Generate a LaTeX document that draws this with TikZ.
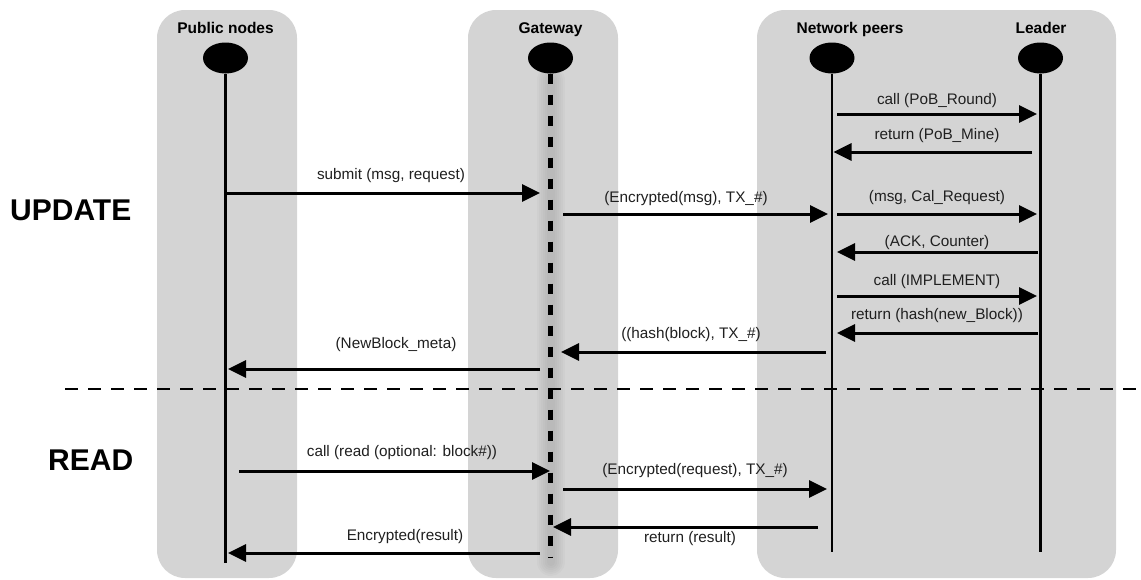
\documentclass[tikz,border=0pt]{standalone}
\usepackage{fontspec}
\setmainfont{Liberation Sans}
\usetikzlibrary{arrows.meta,shapes.geometric,calc}
\definecolor{panel}{RGB}{212,212,212}
\begin{document}
\begin{tikzpicture}[x=1pt,y=-1pt,
  panelbox/.style={fill=panel, rounded corners=28pt},
  head/.style={ellipse, fill=black, minimum width=45pt, minimum height=31pt, inner sep=0},
  title/.style={font=\fontsize{15.5}{18}\selectfont\bfseries, anchor=base, inner sep=0},
  life/.style={line width=2.6pt},
  gwlife/.style={line width=5pt, dash pattern=on 10pt off 11pt},
  glow/.style={black, opacity=0.018, line cap=round},
  msg/.style={line width=3pt, -{Triangle[length=18pt,width=17pt]}},
  lbl/.style={font=\fontsize{15.3}{18}\selectfont, inner sep=0, text height=10.8pt, text depth=3.2pt, text=black!88},
  phase/.style={font=\fontsize{30}{36}\selectfont\bfseries, anchor=base west, inner sep=0},
  sepline/.style={line width=2pt, dash pattern=on 13pt off 10pt}
]
\path[use as bounding box] (0,0) rectangle (1141,579);

% panels
\path[panelbox] (157,10) rectangle (297,578);
\path[panelbox] (468,10) rectangle (618,578);
\path[panelbox] (757,10) rectangle (1116,578);

% gateway soft shadow
\coordinate (glowtop) at (550.5,80);
\coordinate (glowbot) at (550.5,562);
\foreach \w in {28,24,20,16,12,8} {
  \draw[glow, line width=\w pt] (glowtop) -- (glowbot);
}

% heads and titles
\node[head] (pub) at (225.5,58) {};
\node[head] (gw) at (550.5,58) {};
\node[head] (net) at (832,58) {};
\node[head] (lead) at (1040.5,58) {};
\node[title] (tpub) at (225.5,33) {Public nodes};
\node[title] (tgw) at (550.5,33) {Gateway};
\node[title] (tnet) at (850,33) {Network peers};
\node[title] (tlead) at (1041,33) {Leader};

% lifelines
\coordinate (pubend) at (225.5,563);
\coordinate (gwend) at (550.5,557);
\coordinate (netend) at (832,552);
\coordinate (leadend) at (1040.5,552);
\draw[life] (pub.south) -- (pubend);
\draw[gwlife] (gw.south) -- (gwend);
\draw[life] (net.south) -- (netend);
\draw[life] (lead.south) -- (leadend);

% phases
\node[phase] (upd) at (10,220) {UPDATE};
\node[phase] (rd) at (48,470) {READ};
\coordinate (sepL) at (65,389);
\coordinate (sepR) at (1141,389);
\draw[sepline] (sepL) -- (sepR);

% messages
\draw[msg] ($(net |- 0,114)+(5,0)$) -- ($(lead |- 0,114)+(-3.5,0)$)
  node[lbl] at (937,101) {call (PoB\_Round)};
\draw[msg] ($(lead |- 0,152)+(-8.5,0)$) -- ($(net |- 0,152)+(1.5,0)$)
  node[lbl] at (937,136) {return (PoB\_Mine)};
\draw[msg] ($(pub |- 0,193)+(0,0)$) -- ($(gw |- 0,193)+(-10.5,0)$)
  node[lbl] at (391,176) {submit (msg, request)};
\draw[msg] ($(gw |- 0,214)+(12.5,0)$) -- ($(net |- 0,214)+(-4,0)$)
  node[lbl] at (686,199) {(Encrypted(msg), TX\_\#)};
\draw[msg] ($(net |- 0,214)+(5,0)$) -- ($(lead |- 0,214)+(-3.5,0)$)
  node[lbl] at (937,198) {(msg, Cal\_Request)};
\draw[msg] ($(lead |- 0,252)+(-2.5,0)$) -- ($(net |- 0,252)+(5,0)$)
  node[lbl] at (937,243) {(ACK, Counter)};
\draw[msg] ($(net |- 0,296)+(5,0)$) -- ($(lead |- 0,296)+(-3.5,0)$)
  node[lbl] at (937,282) {call (IMPLEMENT)};
\draw[msg] ($(lead |- 0,333)+(-2.5,0)$) -- ($(net |- 0,333)+(5,0)$)
  node[lbl] at (937,316) {return (hash(new\_Block))};
\draw[msg] ($(net |- 0,352)+(-6,0)$) -- ($(gw |- 0,352)+(10.5,0)$)
  node[lbl] at (691,335) {((hash(block), TX\_\#)};
\draw[msg] ($(gw |- 0,369)+(-10.5,0)$) -- ($(pub |- 0,369)+(2.5,0)$)
  node[lbl] at (396,345) {(NewBlock\_meta)};
\draw[msg] ($(pub |- 0,471)+(13.5,0)$) -- ($(gw |- 0,471)+(-0.5,0)$)
  node[lbl] at (402,453) {call (read (optional: block\#))};
\draw[msg] ($(gw |- 0,489)+(12.5,0)$) -- ($(net |- 0,489)+(-5,0)$)
  node[lbl] at (695,471) {(Encrypted(request), TX\_\#)};
\draw[msg] ($(net |- 0,527)+(-14,0)$) -- ($(gw |- 0,527)+(2.5,0)$)
  node[lbl] at (690,539) {return (result)};
\draw[msg] ($(gw |- 0,553)+(-10.5,0)$) -- ($(pub |- 0,553)+(2.5,0)$)
  node[lbl] at (405,537) {Encrypted(result)};
\end{tikzpicture}
\end{document}
